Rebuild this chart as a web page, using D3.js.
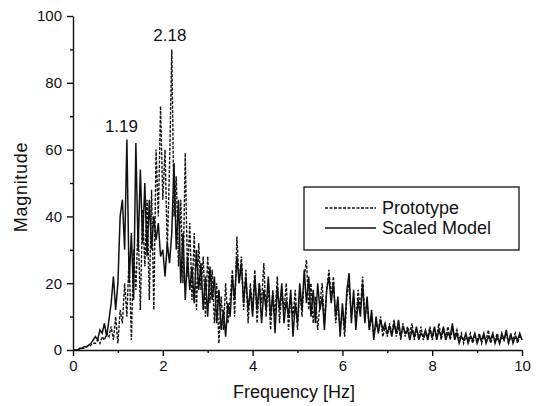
<!DOCTYPE html>
<html lang="en">
<head>
<meta charset="utf-8">
<title>Magnitude spectrum</title>
<script src="https://d3js.org/d3.v7.min.js"></script>
<style>
  body { margin: 0; background: #fff; }
  text { font-family: Arial, "Liberation Sans", sans-serif; fill: #111; }
  .axis path, .axis line { stroke: #111; stroke-width: 1.4px; }
  .axis text { font-size: 15px; }
  .proto { fill: none; stroke: #111; stroke-width: 1.4px; stroke-dasharray: 3,1.5; }
  .scaled { fill: none; stroke: #111; stroke-width: 1.5px; }
</style>
</head>
<body>
<svg width="536" height="406"></svg>
<script>
// frequency grid (Hz)
const stepHz = 0.05;
const freq = d3.range(201).map(i => +(i * stepHz).toFixed(2));

// Prototype magnitude, 0..10 Hz, one row per Hz
const prototype = [
  0,0,0,0,0.5,0.5,1,1,1.5,2, 2,3,2,4,3,5,4,7,3,10,
  2,12,8,20,10,28,3,30,18,38, 12,42,25,45,15,48,12,60,40,73,
  45,60,30,55,90,40,52,25,45,20, 59,22,38,15,35,12,32,18,28,10,
  28,14,24,8,20,2,16,6,20,8, 15,24,10,34,20,28,12,24,8,20,
  12,24,8,20,14,26,10,20,6,18, 10,22,8,18,12,20,6,16,10,18,
  6,18,10,22,27,12,20,8,16,6, 14,20,8,18,24,16,22,8,14,6,
  12,4,16,20,10,16,8,18,12,22, 10,14,6,10,4,8,6,10,4,7,
  4,8,5,9,4,7,3,8,4,7, 5,8,3,6,4,7,3,5,4,7,
  3,6,4,8,3,6,4,7,3,6, 4,6,3,5,2,4,3,5,2,4,
  3,5,2,4,3,6,2,4,3,5, 2,4,3,5,2,4,3,5,2,4,
  3
];

// Scaled model magnitude
const scaled = [
  0,0,0,0.5,0.5,1,1,1.5,2,3, 4,3,6,5,8,4,9,14,22,12,
  20,40,45,30,63,20,35,15,62,30, 54,32,50,28,45,30,40,33,38,28,
  30,22,32,26,35,56,30,45,20,35, 15,28,18,25,14,30,18,26,12,22,
  10,25,15,22,8,18,6,12,4,14, 10,22,15,28,20,26,14,22,12,18,
  10,22,12,20,8,18,12,22,10,17, 5,19,12,20,8,15,10,18,4,14,
  8,20,12,24,14,22,10,18,8,20, 12,16,6,18,22,14,20,10,16,4,
  14,6,18,23,8,18,6,15,10,20, 8,16,6,12,3,10,5,9,6,8,
  5,7,4,8,5,9,4,7,5,6, 3,6,4,7,3,5,4,6,3,6,
  4,7,3,6,4,7,3,5,4,8, 3,5,2,4,3,5,2,4,3,5,
  2,4,3,5,2,4,3,5,2,4, 2,5,3,6,2,5,2,4,3,5,
  3
];

const peaks = [
  { hz: 1.19, mag: 63, label: "1.19", dx: -5 },
  { hz: 2.18, mag: 90, label: "2.18", dx: -1 }
];

const xTicks = [0, 2, 4, 6, 8, 10];
const yTicks = [0, 20, 40, 60, 80, 100];
const seriesNames = ["Prototype", "Scaled Model"];

const W = 536, H = 406;
const margin = { top: 16, right: 14, bottom: 56, left: 73 };
const svg = d3.select("svg");

const x = d3.scaleLinear().domain([0, 10]).range([margin.left, W - margin.right]);
const y = d3.scaleLinear().domain([0, 100]).range([H - margin.bottom, margin.top]);

// minor ticks
svg.append("g").attr("class", "axis")
  .attr("transform", `translate(0,${y(0)})`)
  .call(d3.axisBottom(x).tickValues(d3.range(1, 10, 2)).tickSize(3).tickFormat(""))
  .select(".domain").remove();
svg.append("g").attr("class", "axis")
  .attr("transform", `translate(${x(0)},0)`)
  .call(d3.axisLeft(y).tickValues(d3.range(10, 100, 20)).tickSize(3).tickFormat(""))
  .select(".domain").remove();

// main axes
svg.append("g").attr("class", "axis")
  .attr("transform", `translate(0,${y(0)})`)
  .call(d3.axisBottom(x).tickValues(xTicks).tickSize(6).tickSizeOuter(0).tickPadding(4));
svg.append("g").attr("class", "axis")
  .attr("transform", `translate(${x(0)},0)`)
  .call(d3.axisLeft(y).tickValues(yTicks).tickSize(6).tickSizeOuter(0).tickPadding(5));

const line = d3.line().x((d, i) => x(freq[i])).y(d => y(d));

svg.append("path").datum(prototype).attr("class", "proto").attr("d", line);
svg.append("path").datum(scaled).attr("class", "scaled").attr("d", line);

// peak labels
svg.selectAll(".peak").data(peaks).join("text")
  .attr("class", "peak")
  .attr("x", d => x(d.hz) + d.dx)
  .attr("y", d => y(d.mag) - 8)
  .attr("text-anchor", "middle")
  .style("font-size", "17px")
  .text(d => d.label);

// axis titles
svg.append("text")
  .attr("x", 294).attr("y", 398)
  .attr("text-anchor", "middle").style("font-size", "18px")
  .text("Frequency [Hz]");
svg.append("text")
  .attr("transform", `translate(27,${(y(0) + y(100)) / 2 + 4}) rotate(-90)`)
  .attr("text-anchor", "middle").style("font-size", "18px")
  .style("letter-spacing", "0.7px")
  .text("Magnitude");

// legend
const lg = svg.append("g").attr("transform", "translate(304,187)");
lg.append("rect").attr("width", 215).attr("height", 63)
  .attr("fill", "#fff").attr("stroke", "#111").attr("stroke-width", 1.3);
seriesNames.forEach((name, i) => {
  const yy = 21 + i * 20;
  lg.append("line").attr("x1", 21).attr("x2", 72).attr("y1", yy).attr("y2", yy)
    .attr("class", i === 0 ? "proto" : "scaled");
  lg.append("text").attr("x", 78).attr("y", yy + 6)
    .style("font-size", "18px").text(name);
});
</script>
</body>
</html>
